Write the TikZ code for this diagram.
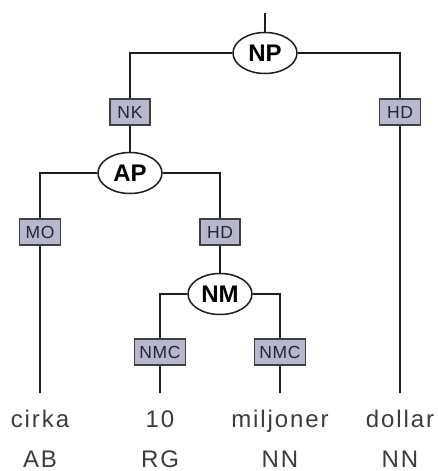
\documentclass[tikz,border=0pt]{standalone}
\usepackage{fontspec}
\setmainfont{Liberation Sans}
\newfontfamily\wordfont[LetterSpace=8]{Liberation Sans}
\newfontfamily\labelfont[LetterSpace=4]{Liberation Sans}
\usetikzlibrary{shapes.geometric}
\definecolor{boxfill}{RGB}{184,184,204}
\definecolor{boxtext}{RGB}{35,35,60}
\definecolor{edge}{RGB}{30,30,30}
\definecolor{wordtext}{RGB}{60,60,60}
\tikzset{
  phrase/.style={ellipse, draw=edge, line width=1.5pt, fill=white,
    minimum width=64pt, minimum height=41pt, inner sep=0pt,
    font=\fontsize{24}{26}\selectfont\bfseries},
  funcbox/.style={rectangle, draw=edge!85, line width=1.3pt, fill=boxfill,
    text=boxtext, minimum height=26pt, inner xsep=2pt, inner ysep=0pt,
    font=\labelfont\fontsize{17.5}{19}\selectfont},
  word/.style={anchor=base, text height=17pt, inner ysep=17pt, inner xsep=0pt,
    text=wordtext, font=\wordfont\fontsize{24}{26}\selectfont},
  tag/.style={anchor=base, inner sep=0pt,
    text=wordtext, font=\wordfont\fontsize{24}{26}\selectfont},
  branch/.style={draw=edge, line width=1.2pt},
}
\begin{document}
\begin{tikzpicture}[x=1pt, y=-1pt]
  \useasboundingbox (0,0) rectangle (437,471);

  % phrase nodes
  \node[phrase] (np) at (265,53) {NP};
  \node[phrase] (ap) at (130,173) {AP};
  \node[phrase] (nm) at (220,294) {NM};

  % function labels
  \node[funcbox, minimum width=40pt] (nk) at (130,112) {NK};
  \node[funcbox, minimum width=41pt] (hdnp) at (400,112) {HD};
  \node[funcbox, minimum width=41pt] (mo) at (40,232) {MO};
  \node[funcbox, minimum width=40pt] (hdap) at (220,232) {HD};
  \node[funcbox, minimum width=51pt] (nmc1) at (160,352) {NMC};
  \node[funcbox, minimum width=51pt] (nmc2) at (280,352) {NMC};

  % words and tags
  \node[word] (w1) at (40,427) {cirka};
  \node[word] (w2) at (160,427) {10};
  \node[word] (w3) at (280,427) {miljoner};
  \node[word] (w4) at (400,427) {dollar};
  \node[tag] (t1) at (40,467) {AB};
  \node[tag] (t2) at (160,467) {RG};
  \node[tag] (t3) at (280,467) {NN};
  \node[tag] (t4) at (400,467) {NN};

  \coordinate (root) at (265,13);

  % branches
  \path[branch] (root) -- (np.north);
  \path[branch] (np.west) -| (nk.north);
  \path[branch] (nk.south) -- (ap.north);
  \path[branch] (np.east) -| (hdnp.north);
  \path[branch] (hdnp.south) -- (w4.north);
  \path[branch] (ap.west) -| (mo.north);
  \path[branch] (mo.south) -- (w1.north);
  \path[branch] (ap.east) -| (hdap.north);
  \path[branch] (hdap.south) -- (nm.north);
  \path[branch] (nm.west) -| (nmc1.north);
  \path[branch] (nmc1.south) -- (w2.north);
  \path[branch] (nm.east) -| (nmc2.north);
  \path[branch] (nmc2.south) -- (w3.north);
\end{tikzpicture}
\end{document}
